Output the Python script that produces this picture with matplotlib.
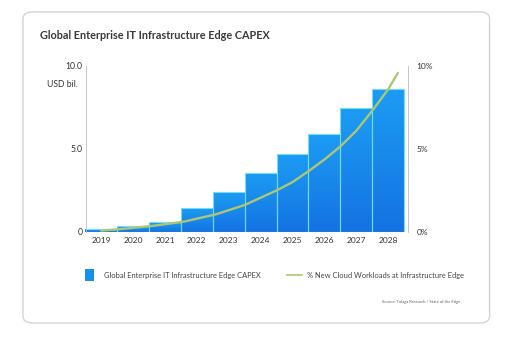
import numpy as np
import matplotlib.pyplot as plt
from matplotlib.patches import FancyBboxPatch
from matplotlib.colors import LinearSegmentedColormap

# chart data
years = ['2019', '2020', '2021', '2022', '2023', '2024', '2025', '2026', '2027', '2028']
capex = [0.15, 0.33, 0.57, 1.42, 2.4, 3.57, 4.68, 5.88, 7.45, 8.6]
workload_x = [0, 0.5, 1, 1.6, 2.6, 3.6, 4.5, 5.5, 6, 6.5, 7, 7.5, 8, 8.5, 9, 9.3]
workload_pct = [0.08, 0.15, 0.24, 0.36, 0.62, 1.06, 1.62, 2.5, 3.0, 3.66, 4.36, 5.15,
                6.1, 7.3, 8.6, 9.57]

plt.rcParams['font.family'] = ['Lato', 'DejaVu Sans']

fig = plt.figure(figsize=(5.1, 3.4), dpi=100)

# rounded card behind everything
card = FancyBboxPatch((0.045, 0.05), 0.915, 0.915,
                      boxstyle='round,pad=0,rounding_size=0.02',
                      transform=fig.transFigure, facecolor='white',
                      edgecolor='#d4d4d4', linewidth=1.0, zorder=-5)
fig.patches.append(card)

ax = fig.add_axes([0.169, 0.318, 0.631, 0.488])
ax.patch.set_alpha(0)
x = np.arange(len(years))
bars = ax.bar(x, capex, width=1.0, color='none', edgecolor='#74dcfa', linewidth=0.8, zorder=3)

# vertical gradient inside every bar
blues = LinearSegmentedColormap.from_list('blues', ['#1472e2', '#1c9cf3'])
grad = np.linspace(0, 1, 64).reshape(-1, 1)
for b in bars:
    x0, w, h = b.get_x(), b.get_width(), b.get_height()
    im = ax.imshow(grad, extent=[x0, x0 + w, 0, h], origin='lower', aspect='auto',
                   cmap=blues, zorder=2)
    im.set_clip_path(b)

ax.set_xlim(-0.47, 9.62)
ax.set_ylim(0, 10)
ax.set_yticks([0, 5, 10])
ax.set_yticklabels(['0', '5.0', '10.0'])
ax.set_xticks(x)
ax.set_xticklabels(years)
ax.tick_params(axis='x', length=0, labelsize=6, colors='#333333', pad=4)
ax.tick_params(axis='y', length=0, labelsize=6.2, colors='#333333', pad=2.5)
for s in ['top', 'right', 'bottom']:
    ax.spines[s].set_visible(False)
ax.spines['left'].set_color('#bbbbbb')
ax.spines['left'].set_linewidth(0.6)
ax.text(-0.026, 0.886, 'USD bil.', transform=ax.transAxes, ha='right', va='center',
        fontsize=6.2, color='#333333')

ax2 = ax.twinx()
ax2.plot(workload_x, workload_pct, color='#abc775', linewidth=1.7, zorder=4,
         solid_capstyle='round', solid_joinstyle='round')
ax2.set_ylim(0, 10)
ax2.set_yticks([0, 5, 10])
ax2.set_yticklabels(['0%', '5%', '10%'])
ax2.tick_params(axis='y', length=0, labelsize=6, colors='#333333', pad=6)
for s in ['top', 'left', 'bottom']:
    ax2.spines[s].set_visible(False)
ax2.spines['right'].set_color('#bbbbbb')
ax2.spines['right'].set_linewidth(0.6)

fig.text(0.079, 0.897, 'Global Enterprise IT Infrastructure Edge CAPEX', fontsize=7.8,
         fontweight='bold', color='#3a3a3a', ha='left', va='center')

# legend
fig.patches.append(plt.Rectangle((0.167, 0.173), 0.017, 0.036, transform=fig.transFigure,
                                 facecolor='#1590ec', edgecolor='none'))
fig.text(0.204, 0.191, 'Global Enterprise IT Infrastructure Edge CAPEX', fontsize=5.4,
         color='#444444', ha='left', va='center')
fig.lines.append(plt.Line2D([0.562, 0.592], [0.191, 0.191], transform=fig.transFigure,
                            color='#abc775', linewidth=1.2))
fig.text(0.602, 0.191, '% New Cloud Workloads at Infrastructure Edge', fontsize=5.4,
         color='#444444', ha='left', va='center')
fig.text(0.903, 0.112, 'Source: Tolaga Research / State of the Edge', fontsize=3.0,
         color='#666666', ha='right', va='center')

fig.savefig('out.png', dpi=100)
